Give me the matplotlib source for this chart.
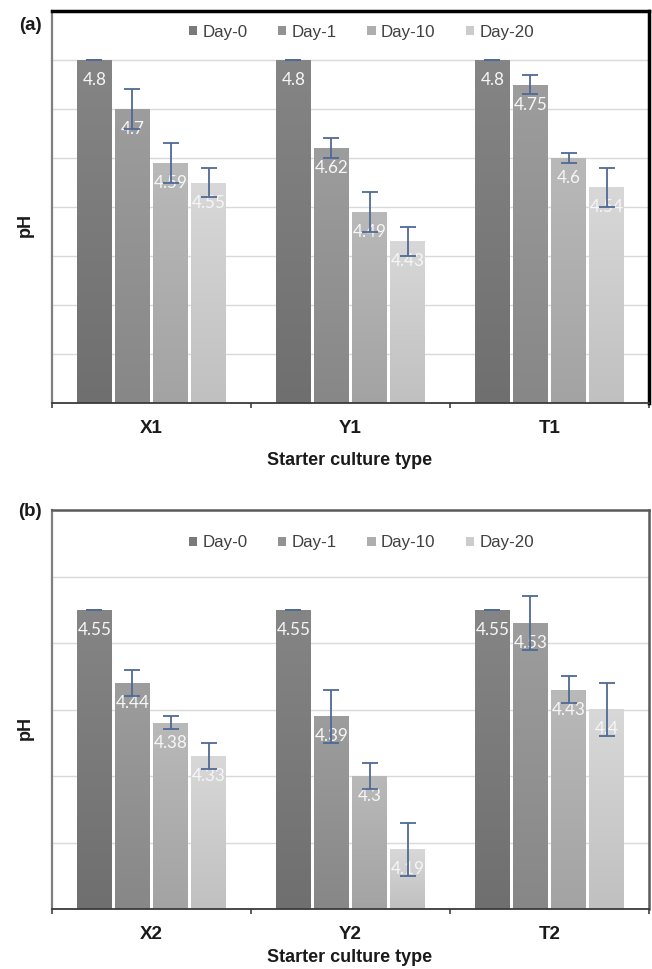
import matplotlib
matplotlib.use("Agg")
import matplotlib.pyplot as plt
import numpy as np
from matplotlib.colors import LinearSegmentedColormap
from matplotlib.patches import Patch

plt.rcParams['font.family'] = ['Liberation Sans', 'DejaVu Sans']

# ---------------- data ----------------
days = ["Day-0", "Day-1", "Day-10", "Day-20"]

groups_a = ["X1", "Y1", "T1"]
day0_a = [4.80, 4.80, 4.80]
day1_a = [4.70, 4.62, 4.75]
day10_a = [4.59, 4.49, 4.60]
day20_a = [4.55, 4.43, 4.54]
err0_a = [0.0, 0.0, 0.0]
err1_a = [0.04, 0.02, 0.02]
err10_a = [0.04, 0.04, 0.01]
err20_a = [0.03, 0.03, 0.04]

groups_b = ["X2", "Y2", "T2"]
day0_b = [4.55, 4.55, 4.55]
day1_b = [4.44, 4.39, 4.53]
day10_b = [4.38, 4.30, 4.43]
day20_b = [4.33, 4.19, 4.40]
err0_b = [0.0, 0.0, 0.0]
err1_b = [0.02, 0.04, 0.04]
err10_b = [0.01, 0.02, 0.02]
err20_b = [0.02, 0.04, 0.04]

xlabel_text = "Starter culture type"
ylabel_text = "pH"

# ---------------- style ----------------
bottom_cols = ["#6f6f6f", "#878787", "#a3a3a3", "#c0c0c0"]
top_cols = ["#858585", "#9d9d9d", "#b9b9b9", "#d8d8d8"]
mid_cols = ["#7a7a7a", "#929292", "#aeaeae", "#cccccc"]
err_col = "#4f6a94"

W, H = 652, 969
fig = plt.figure(figsize=(W / 100, H / 100), dpi=100)


def px_axes(left, top, right, bottom):
    return fig.add_axes([left / W, 1 - bottom / H, (right - left) / W, (bottom - top) / H])


def draw_panel(ax, groups, series, errors, ymin, ymax, frame_col, frame_lw, leg_y):
    x = np.arange(len(groups))
    step, width = 0.191, 0.171
    for i, (vals, errs) in enumerate(zip(series, errors)):
        xi = x + (i - 1.5) * step
        bars = ax.bar(xi, vals, width, color=mid_cols[i], zorder=2)
        cmap = LinearSegmentedColormap.from_list("g%d" % i, [bottom_cols[i], top_cols[i]])
        grad = np.linspace(0, 1, 256).reshape(-1, 1)
        for b, v in zip(bars, vals):
            x0 = b.get_x()
            im = ax.imshow(grad, extent=[x0, x0 + width, ymin, v], origin='lower',
                           aspect='auto', cmap=cmap, zorder=2.1)
            im.set_clip_path(b)
        ax.errorbar(xi, vals, yerr=errs, fmt='none', ecolor=err_col, elinewidth=1.3,
                    capsize=5.5, capthick=1.3, zorder=5)
        for xc, v in zip(xi, vals):
            ax.annotate(f"{v:g}", (xc, v), xytext=(0, -20), textcoords='offset pixels',
                        ha='center', va='center', color='#f6f6f6', fontsize=12.3,
                        family=['Lato', 'DejaVu Sans'], zorder=4)
    ax.set_xlim(-0.5, len(groups) - 0.5)
    ax.set_ylim(ymin, ymax)
    ax.set_yticks(np.arange(ymin, ymax + 0.001, 0.1))
    ax.set_yticklabels([])
    ax.tick_params(axis='y', length=0)
    ax.yaxis.grid(True, color='#d9d9d9', lw=1)
    ax.set_axisbelow(True)
    ax.set_xticks(x)
    ax.set_xticklabels(groups, fontsize=13.5, fontweight='bold', color='#1a1a1a')
    ax.tick_params(axis='x', which='major', length=0, pad=12.5)
    ax.set_xticks(np.arange(-0.5, len(groups)), minor=True)
    ax.tick_params(axis='x', which='minor', length=3.8, width=1.2, color='#404040', direction='out')
    ax.spines['left'].set_color('#7f7f7f')
    ax.spines['left'].set_linewidth(1.6)
    ax.spines['bottom'].set_color('#3a3a3a')
    ax.spines['bottom'].set_linewidth(1.3)
    for s in ('top', 'right'):
        ax.spines[s].set_color(frame_col)
        ax.spines[s].set_linewidth(frame_lw)
    handles = [Patch(facecolor=c, edgecolor='none') for c in mid_cols]
    leg = ax.legend(handles, days, loc='center', bbox_to_anchor=(0.518, leg_y), ncol=4,
                    frameon=False, fontsize=12.2, handlelength=0.5, handleheight=0.5,
                    handletextpad=0.3, columnspacing=1.8, borderaxespad=0)
    for t in leg.get_texts():
        t.set_color('#404040')


ax_a = px_axes(52, 11, 649, 403)
draw_panel(ax_a, groups_a, [day0_a, day1_a, day10_a, day20_a],
           [err0_a, err1_a, err10_a, err20_a], 4.1, 4.9, '#000000', 2.5,
           (403 - 32) / 392)

ax_b = px_axes(52, 510, 649, 909)
draw_panel(ax_b, groups_b, [day0_b, day1_b, day10_b, day20_b],
           [err0_b, err1_b, err10_b, err20_b], 4.1, 4.7, '#5a5a5a', 1.8,
           (909 - 543) / 399)

# axis titles and panel letters
fig.text(350 / W, 1 - 460 / H, xlabel_text, ha='center', va='center', fontsize=13,
         fontweight='bold', color='#1a1a1a')
fig.text(350 / W, 1 - 958 / H, xlabel_text, ha='center', va='center', fontsize=13,
         fontweight='bold', color='#1a1a1a')
fig.text(25 / W, 1 - 225 / H, ylabel_text, ha='center', va='center', rotation=90,
         fontsize=13, fontweight='bold', color='#1a1a1a')
fig.text(25 / W, 1 - 728 / H, ylabel_text, ha='center', va='center', rotation=90,
         fontsize=13, fontweight='bold', color='#1a1a1a')
fig.text(30 / W, 1 - 25 / H, "(a)", ha='center', va='center', fontsize=13.5,
         fontweight='bold', color='#1a1a1a')
fig.text(30 / W, 1 - 511 / H, "(b)", ha='center', va='center', fontsize=13.5,
         fontweight='bold', color='#1a1a1a')

fig.savefig("out.png", dpi=100)
